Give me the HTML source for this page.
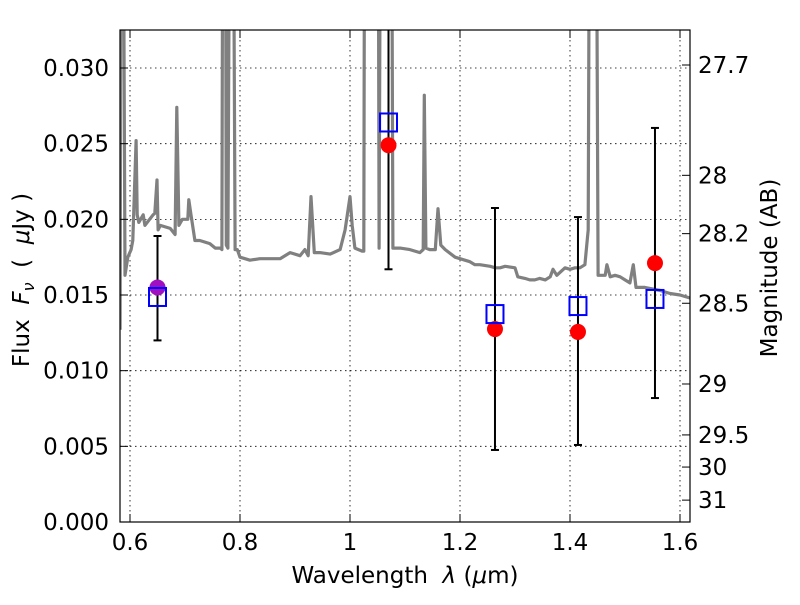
<!DOCTYPE html>
<html><head><meta charset="utf-8"><style>
body{margin:0;background:#fff;}
svg text{font-family:"DejaVu Sans","Liberation Sans",sans-serif;fill:#000;}
</style></head><body>
<svg id="chart" width="800" height="600" xmlns="http://www.w3.org/2000/svg">
<defs><clipPath id="clip"><rect x="120" y="30" width="570" height="492"/></clipPath></defs>
<rect x="0" y="0" width="800" height="600" fill="#fff"/>
<g id="grid"></g>
<g id="spec" clip-path="url(#clip)"></g>
<g id="marks" clip-path="url(#clip)"></g>
<rect x="120" y="30" width="570" height="492" fill="none" stroke="#000" stroke-width="1.2"/>
<g id="axes"></g>
<text x="405" y="583" font-size="23" text-anchor="middle" xml:space="preserve">Wavelength  <tspan font-style="italic">λ</tspan> (<tspan font-style="italic">μ</tspan>m)</text>
<text transform="translate(29,280) rotate(-90)" font-size="23" text-anchor="middle" xml:space="preserve">Flux  <tspan font-style="italic">F</tspan><tspan font-style="italic" font-size="16" dy="5">ν</tspan><tspan dy="-5">  (  </tspan><tspan font-style="italic">μ</tspan>Jy )</text>
<text transform="translate(777,268) rotate(-90)" font-size="23" text-anchor="middle">Magnitude (AB)</text>
</svg>
<script>
const specLam=[0.582,0.584,0.587,0.591,0.596,0.602,0.605,0.611,0.613,0.616,0.624,0.627,0.642,0.645,0.649,0.651,0.655,0.673,0.682,0.685,0.689,0.695,0.705,0.707,0.711,0.718,0.727,0.745,0.755,0.764,0.767,0.769,0.773,0.775,0.778,0.782,0.787,0.791,0.795,0.8,0.809,0.818,0.836,0.855,0.873,0.891,0.909,0.918,0.924,0.929,0.935,0.945,0.964,0.982,0.991,1.0,1.004,1.009,1.022,1.025,1.027,1.051,1.053,1.056,1.075,1.078,1.091,1.109,1.127,1.133,1.135,1.138,1.145,1.155,1.16,1.165,1.173,1.191,1.2,1.218,1.227,1.236,1.255,1.264,1.273,1.282,1.3,1.305,1.318,1.327,1.336,1.345,1.355,1.364,1.369,1.376,1.391,1.4,1.409,1.418,1.427,1.433,1.436,1.447,1.451,1.464,1.467,1.473,1.482,1.491,1.5,1.509,1.515,1.52,1.536,1.564,1.582,1.6,1.618];
const specFlux=[0.0127,0.05,0.05,0.0163,0.0175,0.0180,0.0186,0.0252,0.0203,0.0198,0.0203,0.0196,0.0203,0.0204,0.0226,0.0193,0.0196,0.0194,0.0190,0.0274,0.0196,0.0200,0.0200,0.0213,0.0203,0.0186,0.0186,0.0184,0.0181,0.0181,0.0180,0.05,0.05,0.0183,0.0181,0.05,0.05,0.0180,0.0180,0.0175,0.0174,0.0173,0.0174,0.0174,0.0174,0.0178,0.0176,0.0180,0.0176,0.0215,0.0178,0.0178,0.0177,0.0180,0.0193,0.0215,0.0196,0.0181,0.0179,0.0179,0.05,0.05,0.0181,0.05,0.05,0.0181,0.0181,0.0180,0.0178,0.0180,0.0282,0.0181,0.0180,0.0180,0.0207,0.0183,0.0180,0.0175,0.0174,0.0172,0.0170,0.0170,0.0169,0.0168,0.0168,0.0169,0.0168,0.0162,0.0161,0.0160,0.0160,0.0161,0.0160,0.0162,0.0167,0.0163,0.0168,0.0167,0.0168,0.0168,0.0170,0.0193,0.05,0.05,0.0163,0.0163,0.0170,0.0162,0.0163,0.0162,0.0160,0.0158,0.0170,0.0155,0.0155,0.0153,0.0151,0.0150,0.0148];
const photLam=[0.65,1.07,1.2636,1.4145,1.5545];
const photFlux=[0.0155,0.0249,0.01275,0.01256,0.01711];
const errLow=[0.0120,0.0167,0.00476,0.00509,0.00819];
const errHigh=[0.0189,0.040,0.02075,0.02015,0.02604];
const modelFlux=[0.01487,0.0264,0.01374,0.01427,0.01474];
const xTicks=[0.6,0.8,1.0,1.2,1.4,1.6];
const xTickLabels=["0.6","0.8","1","1.2","1.4","1.6"];
const yTicks=[0,0.005,0.010,0.015,0.020,0.025,0.030];
const yTickLabels=["0.000","0.005","0.010","0.015","0.020","0.025","0.030"];
const magTicks=[27.7,28,28.2,28.5,29,29.5,30,31];
const magTickLabels=["27.7","28","28.2","28.5","29","29.5","30","31"];

const NS="http://www.w3.org/2000/svg";
const X=l=>130+(l-0.6)*550;
const Y=f=>522-f*15133;
function mk(tag,attrs,parent){const e=document.createElementNS(NS,tag);for(const k in attrs)e.setAttribute(k,attrs[k]);parent.appendChild(e);return e;}
const grid=document.getElementById('grid'),axes=document.getElementById('axes'),spec=document.getElementById('spec'),marks=document.getElementById('marks');

xTicks.forEach((t,i)=>{
  const g=mk('line',{x1:X(t),x2:X(t),y1:30,y2:522,stroke:'#000','stroke-width':0.8,'stroke-dasharray':'1.5,3.5'},grid);
  
  
  mk('line',{x1:X(t),x2:X(t),y1:522,y2:514,stroke:'#000'},axes);
  mk('line',{x1:X(t),x2:X(t),y1:30,y2:38,stroke:'#000'},axes);
  const tx=mk('text',{x:X(t),y:550,'font-size':23,'text-anchor':'middle'},axes);
  tx.textContent=xTickLabels[i];
  
  
});
yTicks.forEach((t,i)=>{
  const g=mk('line',{x1:120,x2:690,y1:Y(t),y2:Y(t),stroke:'#000','stroke-width':0.8,'stroke-dasharray':'1.5,3.5'},grid);
  
  
  mk('line',{x1:120,x2:128,y1:Y(t),y2:Y(t),stroke:'#000'},axes);
  const tx=mk('text',{x:109,y:Y(t)+8,'font-size':23,'text-anchor':'end'},axes);
  tx.textContent=yTickLabels[i];
  
  
});
magTicks.forEach((m,i)=>{
  const y=Y(Math.pow(10,(23.9-m)/2.5));
  mk('line',{x1:682,x2:690,y1:y,y2:y,stroke:'#000'},axes);
  const tx=mk('text',{x:698,y:y+8,'font-size':23,'text-anchor':'start'},axes);
  tx.textContent=magTickLabels[i];
  
  
});
const pts=specLam.map((l,i)=>X(l).toFixed(1)+','+Y(specFlux[i]).toFixed(1)).join(' ');
const pl=mk('polyline',{points:pts,fill:'none',stroke:'#808080','stroke-width':3.2,'stroke-linejoin':'round'},spec);



photLam.forEach((l,i)=>{
  const x=X(l);
  const e=mk('line',{x1:x,x2:x,y1:Y(errHigh[i]),y2:Y(errLow[i]),stroke:'#000','stroke-width':2},marks);
  
  
  mk('line',{x1:x-4,x2:x+4,y1:Y(errHigh[i]),y2:Y(errHigh[i]),stroke:'#000','stroke-width':2},marks);
  mk('line',{x1:x-4,x2:x+4,y1:Y(errLow[i]),y2:Y(errLow[i]),stroke:'#000','stroke-width':2},marks);
  const c=mk('circle',{cx:x,cy:Y(photFlux[i]),r:8,fill:i===0?'#a010c0':'#ff0000'},marks);
  
  
  const s=mk('rect',{x:x-8.5,y:Y(modelFlux[i])-9,width:17,height:18,fill:'none',stroke:'#0000ff','stroke-width':2},marks);
  
  
});
</script>
</body></html>
